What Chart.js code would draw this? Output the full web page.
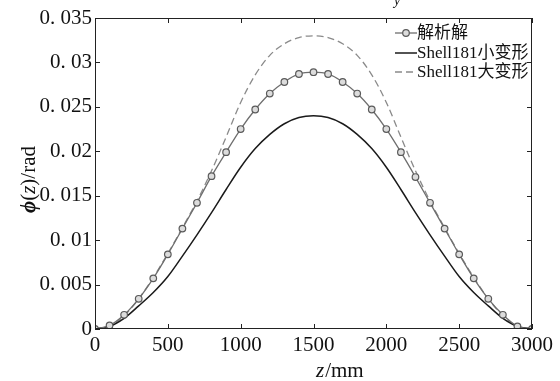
<!DOCTYPE html>
<html>
<head>
<meta charset="utf-8">
<script src="https://cdn.jsdelivr.net/npm/chart.js@4/dist/chart.umd.min.js"></script>
<style>
  body { margin: 0; background: #fff; }
  canvas { display: block; }
</style>
</head>
<body>
<canvas id="chart" width="560" height="381" style="width:560px;height:381px"></canvas>
<script>
// z positions (mm) and rotation angle phi(z) in rad
const zValues = [0, 100, 200, 300, 400, 500, 600, 700, 800, 900, 1000, 1100, 1200, 1300, 1400, 1500,
  1600, 1700, 1800, 1900, 2000, 2100, 2200, 2300, 2400, 2500, 2600, 2700, 2800, 2900, 3000];
const analyticPhi = [0, 0.0004, 0.0016, 0.0034, 0.0057, 0.0084, 0.0113, 0.0142, 0.0172, 0.0199, 0.0225,
  0.0247, 0.0265, 0.0278, 0.0287, 0.0289, 0.0287, 0.0278, 0.0265, 0.0247, 0.0225, 0.0199, 0.0171,
  0.0142, 0.0113, 0.0084, 0.0057, 0.0034, 0.0016, 0.0003, 0];
const smallDefPhi = [0, 0.0003, 0.0012, 0.0026, 0.0041, 0.0059, 0.0082, 0.0106, 0.0131, 0.0157, 0.0182,
  0.0203, 0.0219, 0.0231, 0.0238, 0.0240, 0.0238, 0.0231, 0.0219, 0.0203, 0.0182, 0.0157, 0.0131,
  0.0106, 0.0082, 0.0059, 0.0041, 0.0026, 0.0012, 0.0003, 0];
const largeDefPhi = [0, 0.0003, 0.0015, 0.0034, 0.0058, 0.0085, 0.0114, 0.0144, 0.0178, 0.0216, 0.0255,
  0.0286, 0.0308, 0.0321, 0.0328, 0.0330, 0.0328, 0.0321, 0.0308, 0.0286, 0.0255, 0.0216, 0.0178,
  0.0144, 0.0114, 0.0085, 0.0058, 0.0034, 0.0015, 0.0003, 0];
const seriesNames = ['解析解', 'Shell181小变形', 'Shell181大变形'];
const xTicks = [0, 500, 1000, 1500, 2000, 2500, 3000];
const yTicks = [0, 0.005, 0.01, 0.015, 0.02, 0.025, 0.03, 0.035];

const SERIF = '"Liberation Serif", "Noto Sans CJK SC", serif';
const toPts = ys => zValues.map((z, i) => ({ x: z, y: ys[i] }));

function fmtY(v) {
  if (Math.abs(v) < 1e-9) return '0';
  return parseFloat(v.toFixed(3)).toString().replace('.', '. ');
}

// box, inward ticks, axis titles and legend
const decor = {
  id: 'decor',
  afterDraw(chart) {
    const { ctx, chartArea: a, scales: { x, y } } = chart;
    ctx.save();
    ctx.strokeStyle = '#222';
    ctx.lineWidth = 1;
    ctx.strokeRect(a.left + 0.5, a.top + 0.5, a.right - a.left - 1, a.bottom - a.top - 1);
    ctx.beginPath();
    xTicks.forEach(v => {
      const px = Math.round(x.getPixelForValue(v)) + 0.5;
      ctx.moveTo(px, a.bottom); ctx.lineTo(px, a.bottom - 5);
      ctx.moveTo(px, a.top); ctx.lineTo(px, a.top + 5);
    });
    yTicks.forEach(v => {
      const py = Math.round(y.getPixelForValue(v)) + 0.5;
      ctx.moveTo(a.left, py); ctx.lineTo(a.left + 5, py);
      ctx.moveTo(a.right, py); ctx.lineTo(a.right - 5, py);
    });
    ctx.stroke();

    // x title: z/mm
    ctx.fillStyle = '#111';
    ctx.textBaseline = 'alphabetic';
    ctx.textAlign = 'left';
    let tx = 316;
    ctx.font = 'italic 21px ' + SERIF;
    ctx.fillText('z', tx, 377);
    tx += ctx.measureText('z').width + 1;
    ctx.font = '21px ' + SERIF;
    ctx.fillText('/mm', tx, 377);

    // y title: phi(z)/rad
    ctx.save();
    ctx.translate(35, 213);
    ctx.rotate(-Math.PI / 2);
    const parts = [['ϕ', 'italic bold '], ['(', ''], ['z', 'italic '], [')/rad', '']];
    let ox = 0;
    parts.forEach(([t, st]) => {
      ctx.font = st + '21px ' + SERIF;
      ctx.fillText(t, ox, 0);
      ox += ctx.measureText(t).width;
    });
    ctx.restore();

    // stray caption glyph cut off at the top edge
    ctx.font = 'italic 14px ' + SERIF;
    ctx.fillText('y', 394, 5);

    // legend
    const rows = [33, 53, 72];
    chart.data.datasets.forEach((ds, i) => {
      const ry = rows[i];
      ctx.strokeStyle = ds.borderColor;
      ctx.lineWidth = ds.borderWidth;
      ctx.setLineDash(ds.borderDash || []);
      ctx.beginPath();
      ctx.moveTo(395, ry); ctx.lineTo(417, ry);
      ctx.stroke();
      ctx.setLineDash([]);
      if (ds.pointRadius > 0) {
        ctx.beginPath();
        ctx.arc(406, ry, ds.pointRadius, 0, Math.PI * 2);
        ctx.fillStyle = ds.pointBackgroundColor;
        ctx.fill();
        ctx.lineWidth = ds.pointBorderWidth;
        ctx.strokeStyle = ds.pointBorderColor;
        ctx.stroke();
      }
      ctx.fillStyle = '#111';
      ctx.font = '17px ' + SERIF;
      ctx.textBaseline = 'middle';
      ctx.fillText(ds.label, 417, ry + 1);
    });
    ctx.restore();
  }
};

new Chart(document.getElementById('chart'), {
  type: 'line',
  data: {
    datasets: [
      {
        label: seriesNames[0], data: toPts(analyticPhi),
        borderColor: '#6e6e6e', borderWidth: 1.3, cubicInterpolationMode: 'monotone',
        pointRadius: 3.3, pointBorderColor: '#5a5a5a', pointBackgroundColor: '#dcdcdc', pointBorderWidth: 1.2
      },
      {
        label: seriesNames[1], data: toPts(smallDefPhi),
        borderColor: '#1a1a1a', borderWidth: 1.5, cubicInterpolationMode: 'monotone', pointRadius: 0
      },
      {
        label: seriesNames[2], data: toPts(largeDefPhi),
        borderColor: '#8a8a8a', borderWidth: 1.3, borderDash: [7, 4], cubicInterpolationMode: 'monotone', pointRadius: 0
      }
    ]
  },
  options: {
    responsive: false,
    animation: false,
    devicePixelRatio: 1,
    layout: { padding: { left: 0, top: 18, right: 28, bottom: 0 } },
    plugins: { legend: { display: false }, tooltip: { enabled: false } },
    scales: {
      x: {
        type: 'linear', min: 0, max: 3000,
        afterBuildTicks: s => { s.ticks = xTicks.map(v => ({ value: v })); },
        afterFit: s => { s.height = 52; },
        grid: { display: false, drawTicks: false },
        border: { display: false },
        ticks: { color: '#111', padding: 4, maxRotation: 0, font: { family: SERIF, size: 21 }, callback: v => String(v) }
      },
      y: {
        min: 0, max: 0.035,
        afterBuildTicks: s => { s.ticks = yTicks.map(v => ({ value: v })); },
        afterFit: s => { s.width = 95; },
        grid: { display: false, drawTicks: false },
        border: { display: false },
        ticks: { color: '#111', padding: 3, font: { family: SERIF, size: 21 }, callback: v => fmtY(v) }
      }
    }
  },
  plugins: [decor]
});
</script>
</body>
</html>
